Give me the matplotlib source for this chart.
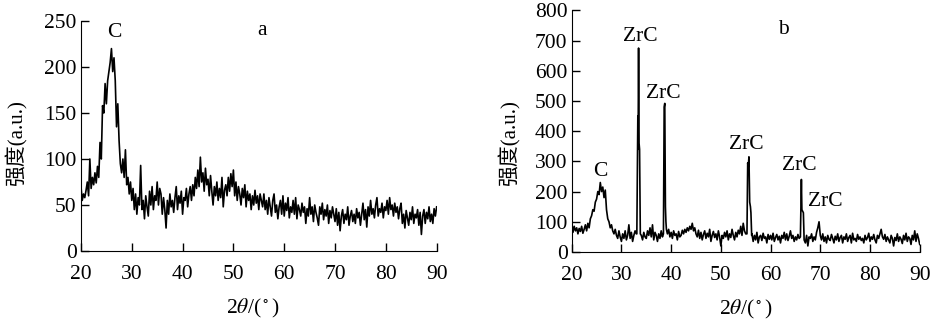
import matplotlib
matplotlib.use('Agg')
import matplotlib.pyplot as plt
import numpy as np

plt.rcParams['font.family'] = ['Liberation Serif', 'Noto Sans CJK SC']
plt.rcParams['mathtext.fontset'] = 'stix'

# ---- panel a: 2theta grid at 0.25 deg, intensities ----
a_x = np.arange(20, 90.01, 0.25)
a_y = [70, 55, 62, 58, 66, 75, 60, 100,
       68, 80, 72, 85, 74, 92, 80, 118,
       100, 158, 150, 182, 160, 185, 195, 205,
       220, 195, 210, 185, 135, 160, 120, 95,
       85, 100, 80, 110, 72, 80, 62, 75,
       55, 68, 45, 62, 40, 58, 50, 93,
       45, 55, 35, 60, 48, 38, 65, 50,
       70, 45, 60, 55, 75, 50, 68, 62,
       40, 58, 45, 25, 55, 40, 62, 48,
       55, 42, 58, 70, 45, 60, 52, 65,
       40, 58, 55, 68, 48, 62, 70, 55,
       72, 60, 80, 68, 88, 70, 102, 75,
       85, 65, 90, 72, 78, 60, 82, 65,
       50, 70, 60, 75, 55, 68, 58, 80,
       48, 66, 72, 60, 80, 65, 84, 70,
       88, 60, 75, 55, 70, 62, 50, 68,
       58, 72, 48, 65, 55, 62, 45, 60,
       50, 66, 52, 60, 45, 62, 55, 48,
       62, 45, 55, 40, 58, 48, 38, 55,
       62, 42, 50, 35, 48, 55, 40, 60,
       38, 52, 44, 58, 36, 48, 42, 55,
       40, 58, 35, 50, 45, 38, 52, 42,
       48, 30, 46, 38, 58, 40, 48, 32,
       50, 42, 36, 28, 48, 40, 52, 34,
       45, 38, 50, 30, 44, 36, 48, 40,
       32, 46, 28, 42, 22, 38, 45, 30,
       40, 34, 48, 28, 38, 44, 32, 40,
       30, 46, 36, 42, 28, 40, 52, 34,
       45, 26, 48, 38, 55, 40, 46, 36,
       50, 58, 38, 46, 42, 52, 36, 48,
       44, 55, 40, 58, 45, 50, 38, 52,
       42, 48, 35, 46, 52, 30, 40, 25,
       44, 36, 28, 42, 34, 48, 30, 40,
       36, 45, 28, 42, 18, 38, 45, 30,
       42, 35, 48, 32, 40, 30, 46, 38,
       48]

# ---- panel b: background on the same grid plus sharp ZrC peaks ----
b_x = np.arange(20, 90.01, 0.25)
b_y = [100, 65, 85, 70, 80, 60, 78, 68,
       85, 62, 75, 90, 70, 95, 80, 110,
       120, 140, 135, 165, 175, 200, 190, 230,
       200, 215, 180, 205, 140, 110, 100, 80,
       90, 70, 60, 75, 55, 45, 70, 50,
       35, 60, 45, 70, 40, 55, 90, 45,
       65, 35, 55, 70, 60, 45, 50, 35,
       55, 40, 65, 50, 45, 70, 55, 80,
       50, 90, 40, 65, 55, 35, 60, 45,
       70, 50, 40, 60, 90, 60, 75, 50,
       65, 45, 70, 55, 60, 40, 68, 50,
       55, 72, 60, 75, 65, 80, 70, 85,
       75, 95, 70, 80, 60, 50, 72, 45,
       65, 40, 58, 70, 45, 62, 50, 75,
       35, 55, 68, 48, 60, 40, 70, 50,
       20, 55, 45, 65, 50, 70, 40, 60,
       48, 75, 55, 40, 65, 50, 72, 60,
       85, 55, 95, 70, 60, 50, 50, 50,
       45, 60, 35, 55, 40, 65, 30, 50,
       55, 38, 62, 45, 50, 30, 58, 42,
       55, 40, 62, 35, 48, 58, 40, 52,
       30, 55, 45, 65, 40, 60, 38, 52,
       70, 45, 55, 35, 50, 40, 58, 45,
       48, 40, 40, 40, 30, 55, 20, 50,
       45, 60, 35, 50, 40, 65, 80, 100,
       55, 40, 60, 35, 50, 30, 55, 42,
       38, 58, 45, 30, 52, 40, 60, 35,
       48, 55, 30, 50, 42, 60, 35, 48,
       55, 30, 62, 40, 45, 35, 58, 42,
       50, 38, 45, 30, 55, 40, 48, 62,
       35, 50, 42, 58, 40, 30, 55, 45,
       60, 75, 50, 42, 58, 35, 50, 40,
       30, 55, 45, 20, 48, 38, 60, 35,
       50, 42, 28, 55, 40, 62, 35, 50,
       45, 25, 55, 40, 70, 35, 60, 45,
       25]

peak_x = [[33.1, 33.3, 33.35, 33.45, 33.55, 33.65, 33.8],
          [38.45, 38.6, 38.72, 38.85, 38.95, 39.05],
          [55.25, 55.4, 55.5, 55.65, 55.8, 55.95, 56.05, 56.2],
          [66.0, 66.1, 66.2, 66.3, 66.45, 66.6, 66.75]]
peak_y = [[60, 450, 340, 675, 360, 340, 60],
          [60, 480, 492, 150, 100, 75],
          [60, 295, 280, 315, 165, 150, 130, 55],
          [50, 140, 240, 140, 135, 130, 40]]

b_x = list(b_x)
keep = [True] * len(b_x)
for px in peak_x:
    for i, x in enumerate(b_x):
        if px[0] <= x <= px[-1]:
            keep[i] = False
bx = [x for x, k in zip(b_x, keep) if k]
by = [y for y, k in zip(b_y, keep) if k]
for px, py in zip(peak_x, peak_y):
    bx += px
    by += py
order = np.argsort(bx)
bx = np.array(bx)[order]
by = np.array(by)[order]

zrc_x = [33.7, 38.5, 55.1, 65.7, 71.1]
zrc_y = [712, 525, 355, 286, 167]

fs = 15.5
fig = plt.figure(figsize=(9.36, 3.27), dpi=100)
ax1 = fig.add_axes([0.0865, 0.2324, 0.380, 0.7034])
ax2 = fig.add_axes([0.6108, 0.2294, 0.3718, 0.739])

ax1.plot(a_x, a_y, color='black', lw=1.2)
ax2.plot(bx, by, color='black', lw=1.2)

ax1.set_ylim(0, 250)
ax1.set_yticks([0, 50, 100, 150, 200, 250])
ax2.set_ylim(0, 800)
ax2.set_yticks(range(0, 801, 100))

for ax in (ax1, ax2):
    ax.set_xlim(20, 90)
    ax.set_xticks(range(20, 91, 10))
    ax.spines['top'].set_visible(False)
    ax.spines['right'].set_visible(False)
    ax.tick_params(direction='in', length=5.5, width=1, labelsize=fs)
    ax.tick_params(axis='x', pad=10)
    ax.tick_params(axis='y', pad=3)
    ax.set_xlabel(r'2$\theta$/($^\circ$)', fontsize=fs)
    ax.set_ylabel('强度(a.u.)', fontsize=fs - 0.5)

ax1.xaxis.set_label_coords(0.484, -0.20)
ax1.yaxis.set_label_coords(-0.150, 0.47)
ax2.xaxis.set_label_coords(0.50, -0.19)
ax2.yaxis.set_label_coords(-0.148, 0.45)

ax1.text(26.5, 237, 'C', fontsize=fs, ha='center', va='center')
ax1.text(55.6, 240, 'a', fontsize=fs, ha='center', va='center')
ax2.text(62.5, 738, 'b', fontsize=fs, ha='center', va='center')
ax2.text(25.8, 266, 'C', fontsize=fs, ha='center', va='center')
for x, y in zip(zrc_x, zrc_y):
    ax2.text(x, y, 'ZrC', fontsize=fs, ha='center', va='center')

fig.savefig('out.png', dpi=100)
